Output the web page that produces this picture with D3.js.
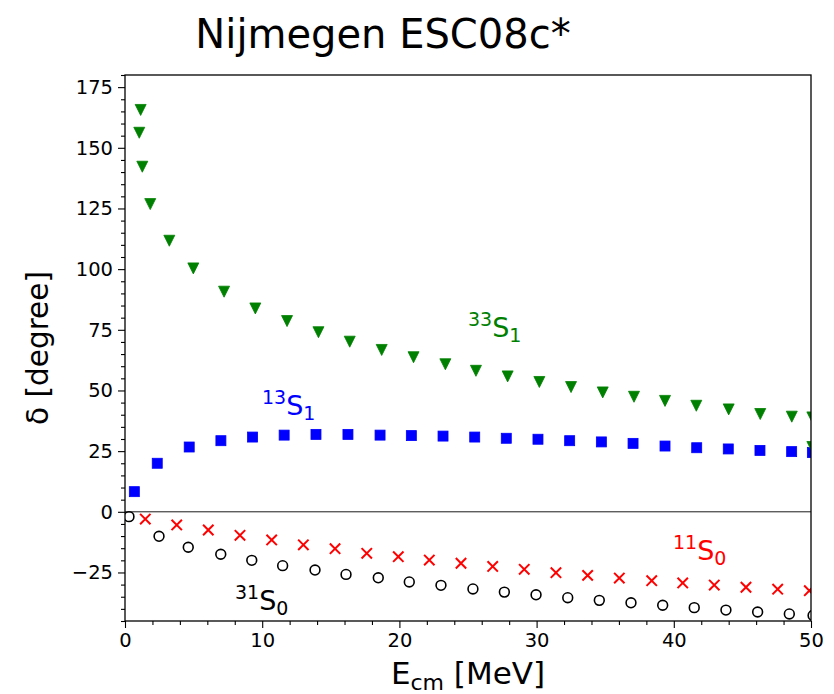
<!DOCTYPE html>
<html>
<head>
<meta charset="utf-8">
<script src="https://cdn.jsdelivr.net/npm/d3@7"></script>
<style>
  html, body { margin: 0; padding: 0; background: #fff; }
  svg { display: block; }
  text { font-family: "DejaVu Sans", sans-serif; }
</style>
</head>
<body>
<svg id="chart" width="834" height="694"></svg>
<script>
// ---------------- data ----------------
const titleText = "Nijmegen ESC08c*";
const xTicks = [0, 10, 20, 30, 40, 50];
const yTicks = [-25, 0, 25, 50, 75, 100, 125, 150, 175];

// 33S1 (green triangles)
const s33S1_E = [1.14, 1.04, 1.26, 1.84, 3.23, 4.98, 7.22, 9.5, 11.81, 14.1, 16.38, 18.71, 21.03, 23.35, 25.58, 27.89, 30.2, 32.51, 34.82, 37.1, 39.36, 41.64, 44.0, 46.3, 48.6, 50.1, 50.1];
const s33S1_d = [165.6, 156.2, 142.2, 126.8, 111.7, 100.3, 90.7, 83.8, 78.6, 74.0, 70.1, 66.7, 63.7, 60.8, 58.1, 55.8, 53.5, 51.4, 49.2, 47.4, 45.7, 43.7, 42.2, 40.3, 39.2, 38.9, 26.7];

// 13S1 (blue squares)
const s13S1_E = [0.68, 2.35, 4.68, 6.99, 9.3, 11.6, 13.92, 16.25, 18.59, 20.87, 23.18, 25.49, 27.79, 30.1, 32.41, 34.72, 37.03, 39.36, 41.67, 43.97, 46.28, 48.59, 50.1];
const s13S1_d = [8.3, 20.0, 26.7, 29.3, 30.8, 31.6, 31.9, 31.9, 31.6, 31.4, 31.2, 30.8, 30.3, 29.9, 29.3, 28.8, 28.2, 27.1, 26.4, 25.9, 25.3, 24.8, 24.4];

// 11S0 (red crosses)
const s11S0_E = [1.48, 3.77, 6.07, 8.38, 10.69, 13.0, 15.31, 17.62, 19.92, 22.18, 24.49, 26.8, 29.1, 31.41, 33.72, 36.03, 38.39, 40.65, 42.95, 45.26, 47.57, 49.88];
const s11S0_d = [-3.0, -5.4, -7.5, -9.7, -11.6, -13.6, -15.2, -17.1, -18.5, -19.9, -21.2, -22.5, -23.7, -25.1, -26.2, -27.3, -28.4, -29.3, -30.2, -31.1, -31.9, -32.5];

// 31S0 (black open circles)
const s31S0_E = [0.29, 2.48, 4.61, 6.98, 9.24, 11.49, 13.85, 16.11, 18.46, 20.72, 23.03, 25.36, 27.65, 29.96, 32.27, 34.57, 36.88, 39.19, 41.49, 43.8, 46.11, 48.42, 50.15];
const s31S0_d = [-2.0, -10.1, -14.6, -17.5, -20.0, -22.2, -24.0, -25.8, -27.2, -28.9, -30.3, -31.8, -33.1, -34.2, -35.4, -36.5, -37.5, -38.5, -39.5, -40.5, -41.3, -42.1, -42.7];

// ---------------- layout ----------------
const svg = d3.select("#chart");
const L = 125, R = 811, T = 75, B = 621;
const x = d3.scaleLinear().domain([0, 50]).range([L, R]);
const y = d3.scaleLinear().domain([-45, 180]).range([B, T]);

svg.append("defs").append("clipPath").attr("id", "plotclip")
  .append("rect").attr("x", L).attr("y", T).attr("width", R - L).attr("height", B - T);

// zero line
svg.append("line")
  .attr("x1", L).attr("x2", R).attr("y1", y(0)).attr("y2", y(0))
  .attr("stroke", "#000").attr("stroke-width", 0.9);

const plot = svg.append("g").attr("clip-path", "url(#plotclip)");

const zip = (a, b) => a.map((v, i) => [v, b[i]]);

// circles
plot.append("g").selectAll("circle").data(zip(s31S0_E, s31S0_d)).join("circle")
  .attr("cx", d => x(d[0])).attr("cy", d => y(d[1])).attr("r", 4.9)
  .attr("fill", "none").attr("stroke", "#000").attr("stroke-width", 1.6);

// crosses
const cs = 5.2;
plot.append("g").selectAll("path").data(zip(s11S0_E, s11S0_d)).join("path")
  .attr("d", d => {
    const cx = x(d[0]), cy = y(d[1]);
    return `M${cx - cs},${cy - cs}L${cx + cs},${cy + cs}M${cx - cs},${cy + cs}L${cx + cs},${cy - cs}`;
  })
  .attr("stroke", "red").attr("stroke-width", 2).attr("fill", "none");

// squares
const sq = 10;
plot.append("g").selectAll("rect").data(zip(s13S1_E, s13S1_d)).join("rect")
  .attr("x", d => x(d[0]) - sq / 2).attr("y", d => y(d[1]) - sq / 2)
  .attr("width", sq).attr("height", sq)
  .attr("fill", "blue").attr("stroke", "blue").attr("stroke-width", 0.8);

// triangles down
const tw = 5.5, th = 5.5;
plot.append("g").selectAll("path").data(zip(s33S1_E, s33S1_d)).join("path")
  .attr("d", d => {
    const cx = x(d[0]), cy = y(d[1]);
    return `M${cx - tw},${cy - th}L${cx + tw},${cy - th}L${cx},${cy + th}Z`;
  })
  .attr("fill", "green").attr("stroke", "green").attr("stroke-width", 0.8);

// frame
svg.append("rect").attr("x", L).attr("y", T).attr("width", R - L).attr("height", B - T)
  .attr("fill", "none").attr("stroke", "#000").attr("stroke-width", 1.3);

// axes
const tickFont = 19.5;
const xMinor = d3.range(0, 51, 2).filter(v => v % 10 !== 0);
const yMinor = d3.range(-45, 181, 5).filter(v => v % 25 !== 0);

const gxMinor = svg.append("g").attr("transform", `translate(0,${B})`)
  .call(d3.axisBottom(x).tickValues(xMinor).tickSize(4).tickFormat(""));
const gx = svg.append("g").attr("transform", `translate(0,${B})`)
  .call(d3.axisBottom(x).tickValues(xTicks).tickSize(7).tickPadding(5).tickFormat(d3.format("d")));
const gyMinor = svg.append("g").attr("transform", `translate(${L},0)`)
  .call(d3.axisLeft(y).tickValues(yMinor).tickSize(4).tickFormat(""));
const gy = svg.append("g").attr("transform", `translate(${L},0)`)
  .call(d3.axisLeft(y).tickValues(yTicks).tickSize(7).tickPadding(5).tickFormat(d => d < 0 ? "\u2212" + Math.abs(d) : d));

[gx, gy, gxMinor, gyMinor].forEach(g => {
  g.select(".domain").remove();
  g.selectAll(".tick line").attr("stroke", "#000").attr("stroke-width", 1.1);
  g.selectAll(".tick text").attr("font-family", "DejaVu Sans").attr("font-size", tickFont).attr("fill", "#000");
});

// axis labels
svg.append("text")
  .attr("transform", `translate(48,${(T + B) / 2}) rotate(-90)`)
  .attr("text-anchor", "middle").attr("font-size", 29.5).attr("fill", "#000")
  .text("\u03b4 [degree]");

const xl = svg.append("text").attr("x", (L + R) / 2).attr("y", 684)
  .attr("text-anchor", "middle").attr("font-size", 31).attr("fill", "#000");
xl.append("tspan").text("E");
xl.append("tspan").attr("font-size", 22).attr("dy", 6).text("cm");
xl.append("tspan").attr("dy", -6).text(" [MeV]");

// title
svg.append("text").attr("x", 383).attr("y", 48).attr("text-anchor", "middle")
  .attr("font-family", "Liberation Sans, Arial, sans-serif").attr("font-size", 40).attr("fill", "#000")
  .text(titleText);

// state labels
function stateLabel(px, py, sup, sub, color) {
  const t = svg.append("text").attr("x", px).attr("y", py).attr("fill", color).attr("font-size", 27);
  t.append("tspan").attr("font-size", 19).attr("dy", -11).text(sup);
  t.append("tspan").attr("dy", 11).text("S");
  t.append("tspan").attr("font-size", 19).attr("dy", 5).text(sub);
}
stateLabel(468, 337, "33", "1", "green");
stateLabel(262, 415, "13", "1", "blue");
stateLabel(673, 560, "11", "0", "red");
stateLabel(235, 610, "31", "0", "#000");
</script>
</body>
</html>
